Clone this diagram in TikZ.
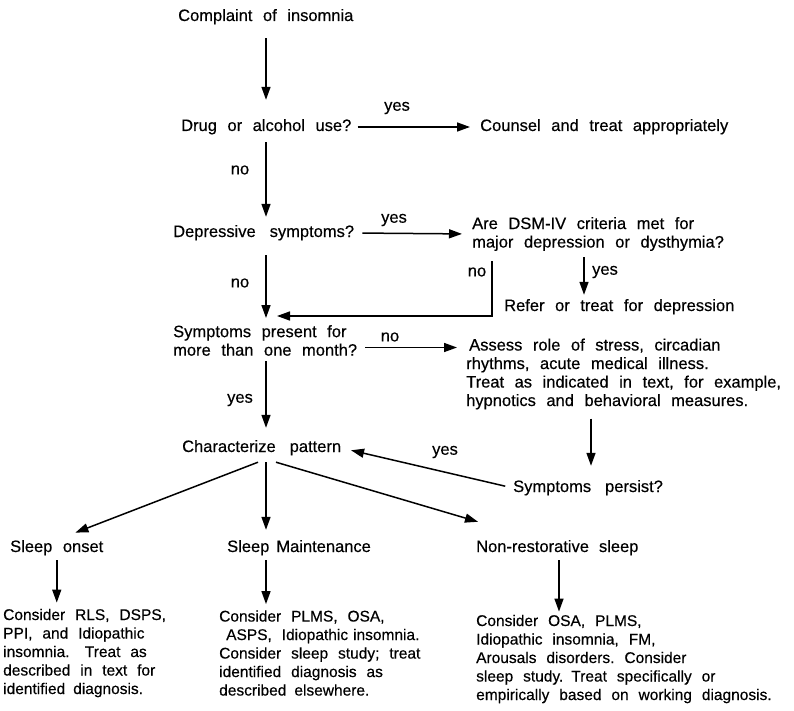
\documentclass[tikz,border=0pt]{standalone}
\usepackage{fontspec}
\setmainfont{Liberation Sans}[WordSpace=2.3, FakeBold=0.4]
\usetikzlibrary{arrows.meta,calc}
\begin{document}
\begin{tikzpicture}[x=1pt,y=-1pt,
  txt/.style={inner sep=0pt, anchor=west, align=left, font=\fontsize{16.5}{18.5}\selectfont},
  one/.style={txt, text height=12pt, text depth=4pt},
  btxt/.style={inner sep=0pt, anchor=west, align=left, font=\fontsize{15.5}{18.5}\selectfont},
  lbl/.style={inner sep=0pt, font=\fontsize{16.5}{18.5}\selectfont},
  arr/.style={line width=1.5pt, -{Triangle[length=13pt,width=9pt]}},
  ln/.style={line width=1.5pt}]
\useasboundingbox (0,0) rectangle (794,711);
\coordinate (X) at (266,0);
\coordinate (Xn) at (492,0);
\coordinate (Xy) at (584,0);
\coordinate (Xa) at (591,0);
\coordinate (Xr) at (559,0);
% main texts
\node[one] (c0) at (178,17) {Complaint of insomnia};
\node[one] (q1) at (181,127) {Drug or alcohol use?};
\node[one] (cs) at (480,127) {Counsel and treat appropriately};
\node[one] (q2) at (173,233) {Depressive\hspace{14pt}symptoms?};
\node[txt] (dsm) at (472,234) {Are DSM-IV criteria met for\\major depression or dysthymia?};
\node[one] (rf) at (504,307) {Refer or treat for depression};
\node[txt] (q3) at (173,340.5) {Symptoms present for\\more than one month?};
\node[txt] (as) at (466,374) {\hspace{3pt}Assess role of stress, circadian\\rhythms, acute medical illness.\\Treat as indicated in text, for example,\\hypnotics and behavioral measures.};
\node[one] (cp) at (182,448) {Characterize\hspace{14pt}pattern};
\node[one] (sp) at (513,488) {Symptoms\hspace{14pt}persist?};
\node[one] (so) at (10,548) {Sleep onset};
\node[one] (sm) at (227,548) {Sleep\hspace{7pt}Maintenance};
\node[one] (nr) at (476,548) {Non-restorative\hspace{10pt}sleep};
\node[btxt] (b1) at (3,653) {Consider RLS, DSPS,\\PPI, and Idiopathic\\insomnia.\hspace{4pt} Treat as\\described in text for\\identified\hspace{8pt}diagnosis.};
\node[btxt] (b2) at (219,653) {Consider PLMS, OSA,\\\hspace{7pt}ASPS, Idiopathic\hspace{5pt}insomnia.\\Consider sleep study; treat\\identified diagnosis as\\described\hspace{8pt}elsewhere.};
\node[btxt] (b3) at (476,659) {Consider OSA, PLMS,\\Idiopathic insomnia,\hspace{10pt}FM,\\Arousals disorders.\hspace{10pt}Consider\\sleep study.\hspace{8pt}Treat specifically or\\empirically based on working diagnosis.};
% labels
\node[lbl] (y1) at (397,108) {yes};
\node[lbl] (n1) at (240,170) {no};
\node[lbl] (y2) at (394,220) {yes};
\node[lbl] (n2) at (240,283) {no};
\node[lbl] (n3) at (477,272) {no};
\node[lbl] (y3) at (605,272) {yes};
\node[lbl] (n4) at (390,337) {no};
\node[lbl] (y4) at (240,400) {yes};
\node[lbl] (y5) at (445,452) {yes};
% spine arrows
\draw[arr, shorten <=13pt, shorten >=19pt] (c0.south -| X) -- (q1.north -| X);
\draw[arr, shorten <=7pt, shorten >=8pt] (q1.south -| X) -- (q2.north -| X);
\draw[arr, shorten <=14pt, shorten >=7pt] (q2.south -| X) -- (q3.north -| X);
\draw[arr, shorten <=5pt, shorten >=12pt] (q3.south -| X) -- (cp.north -| X);
% yes / no branches
\draw[arr, shorten <=6pt, shorten >=10pt] (q1.east) -- (cs.west);
\draw[arr, shorten <=8pt, shorten >=10pt] (q2.east) -- (dsm.west);
\draw[arr, shorten <=8pt, shorten >=9pt] ($(q3.east)+(0,7)$) -- ($(as.west |- q3.east)+(0,7)$);
\draw[arr, shorten >=11pt] ($(dsm.south -| Xn)+(0,10)$) |- ($(q3.north -| X)+(0,-9)$);
\draw[arr] ($(dsm.south -| Xy)+(0,6)$) -- ($(rf.north -| Xy)+(0,-4)$);
\draw[arr] ($(as.south -| Xa)+(0,9)$) -- ($(sp.north -| Xa)+(0,-14)$);
\draw[arr, shorten <=8pt, shorten >=10pt] (sp.west) -- (cp.east);
% pattern branches
\draw[arr, shorten >=20pt] ($(cp.south -| X)+(-8,6)$) -- (so.north);
\draw[arr] ($(cp.south -| X)+(0,6)$) -- ($(sm.north -| X)+(0,-10)$);
\draw[arr] ($(cp.south -| X)+(10,6)$) -- ($(nr.north west)+(2,-18)$);
\draw[arr] ($(so.south)+(0,4)$) -- ($(b1.north -| so.south)+(0,-6)$);
\draw[arr] ($(sm.south -| X)+(0,4)$) -- ($(b2.north -| X)+(0,-6)$);
\draw[arr] ($(nr.south -| Xr)+(0,4)$) -- ($(b3.north -| Xr)+(0,-3)$);
\end{tikzpicture}
\end{document}
